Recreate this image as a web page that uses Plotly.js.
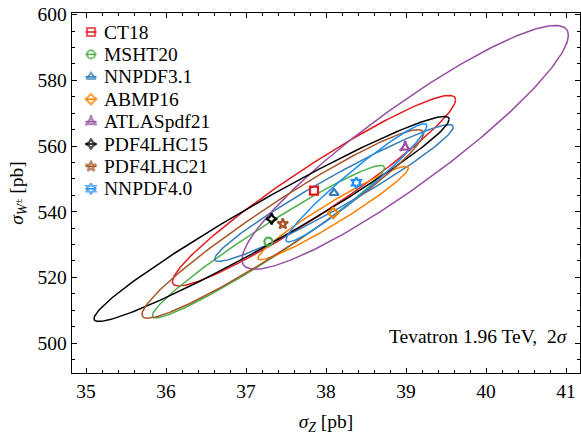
<!DOCTYPE html>
<html>
<head>
<meta charset="utf-8">
<script src="https://cdn.plot.ly/plotly-3.0.1.min.js"></script>
<style>html,body{margin:0;padding:0;background:#fff;}#chart{width:581px;height:435px;}</style>
</head>
<body>
<div id="chart"></div>
<script>
// PDF sets
const names   = ['CT18','MSHT20','NNPDF3.1','ABMP16','ATLASpdf21','PDF4LHC15','PDF4LHC21','NNPDF4.0'];
const colors  = ['#e41a1c','#4daf4a','#377eb8','#ff7f00','#984ea3','#000000','#a65628','#1f8ff7'];
const symbols = ['square-open','circle-open','triangle-up-open','diamond-open','star-triangle-up-open','star-diamond-open','star-open','hexagram-open'];
// central values (sigma_Z, sigma_W) in pb
const centerZ = [37.85, 37.28, 38.10, 38.09, 38.99, 37.32, 37.46, 38.38];
const centerW = [546.4, 530.9, 545.7, 539.6, 559.6, 537.8, 536.3, 548.8];
// 2-sigma half extents of each ellipse and correlation
const halfZ = [1.77, 1.45, 1.49, 0.94, 2.04, 2.22, 1.76, 0.88];
const halfW = [29.0, 23.2, 20.8, 14.2, 37.1, 31.2, 28.7, 18.0];
const rho   = [0.955, 0.970, 0.965, 0.965, 0.920, 0.972, 0.960, 0.965];
const xTicks = [35,36,37,38,39,40,41];
const yTicks = [500,520,540,560,580,600];

const FONT = 'Liberation Serif, Times New Roman, serif';
const W = 581, H = 435, M = {l: 72, r: 1, t: 13, b: 62};
const PW = W - M.l - M.r, PH = H - M.t - M.b;

const traces = [];
const N = 240;
for (let i = 0; i < names.length; i++) {
  const xs = [], ys = [];
  const s = Math.sqrt(1 - rho[i]*rho[i]);
  for (let k = 0; k <= N; k++) {
    const t = 2*Math.PI*k/N;
    xs.push(centerZ[i] + halfZ[i]*Math.cos(t));
    ys.push(centerW[i] + halfW[i]*(rho[i]*Math.cos(t) + s*Math.sin(t)));
  }
  traces.push({x: xs, y: ys, mode: 'lines', line: {color: colors[i], width: 1.5},
    showlegend: false, hoverinfo: 'skip'});
}
for (let i = 0; i < names.length; i++) {
  traces.push({x: [centerZ[i]], y: [centerW[i]], mode: 'markers', name: names[i], showlegend: false,
    marker: {symbol: symbols[i], size: 8, color: colors[i], line: {color: colors[i], width: 2.2}}});
}

// hand-made legend (key layout in plot pixels, drawn on an overlay 0..1 axis)
const keyX = 19, keyTop = 19, keyStep = 22.4, stub = 5.5, textX = 30;
const annotations = [];
for (let i = 0; i < names.length; i++) {
  const yp = 1 - (keyTop + keyStep*i)/PH;
  traces.push({x: [(keyX - stub)/PW, keyX/PW, (keyX + stub)/PW], y: [yp, yp, yp],
    xaxis: 'x2', yaxis: 'y2', mode: 'lines+markers', showlegend: false, hoverinfo: 'skip',
    line: {color: colors[i], width: 1.5},
    marker: {symbol: symbols[i], size: [0, 8, 0], color: colors[i], line: {color: colors[i], width: 2.2}}});
  annotations.push({xref: 'x2', yref: 'y2', x: textX/PW, y: yp, xanchor: 'left', yanchor: 'middle',
    text: names[i], showarrow: false, font: {family: FONT, size: 19.5}});
}
annotations.push({xref: 'paper', yref: 'paper', x: 0.98, y: 0.101, xanchor: 'right', yanchor: 'middle',
  text: 'Tevatron 1.96 TeV,  2<i>σ</i>', showarrow: false, font: {family: FONT, size: 19.5}});

const layout = {
  width: W, height: H,
  margin: M,
  paper_bgcolor: '#fff', plot_bgcolor: '#fff',
  font: {family: FONT, size: 19, color: '#000'},
  showlegend: false,
  xaxis: {range: [34.825, 41.175], tickvals: xTicks, ticktext: xTicks.map(String),
    ticks: 'inside', ticklen: 5, tickwidth: 1, tickcolor: '#000',
    minor: {dtick: 0.2, tick0: 35, ticks: 'inside', ticklen: 3, tickwidth: 1, tickcolor: '#000'},
    mirror: 'ticks', showline: true, linecolor: '#000', linewidth: 1.3,
    showgrid: false, zeroline: false, tickfont: {family: FONT, size: 19.5},
    title: {text: '<i>σ</i><sub><i>Z</i></sub> [pb]', font: {family: FONT, size: 19.5}, standoff: 14}},
  yaxis: {range: [490.9, 600.5], tickvals: yTicks, ticktext: yTicks.map(String),
    ticks: 'inside', ticklen: 5, tickwidth: 1, tickcolor: '#000',
    minor: {dtick: 5, tick0: 500, ticks: 'inside', ticklen: 3, tickwidth: 1, tickcolor: '#000'},
    mirror: 'ticks', showline: true, linecolor: '#000', linewidth: 1.3,
    showgrid: false, zeroline: false, tickfont: {family: FONT, size: 19.5},
    title: {text: '<i>σ</i><sub><i>W</i><sup>±</sup></sub> [pb]', font: {family: FONT, size: 19.5}, standoff: 8}},
  xaxis2: {range: [0, 1], overlaying: 'x', anchor: 'y2', visible: false, fixedrange: true},
  yaxis2: {range: [0, 1], overlaying: 'y', anchor: 'x2', visible: false, fixedrange: true},
  annotations: annotations
};
Plotly.newPlot('chart', traces, layout, {staticPlot: true, displayModeBar: false});
</script>
</body>
</html>
